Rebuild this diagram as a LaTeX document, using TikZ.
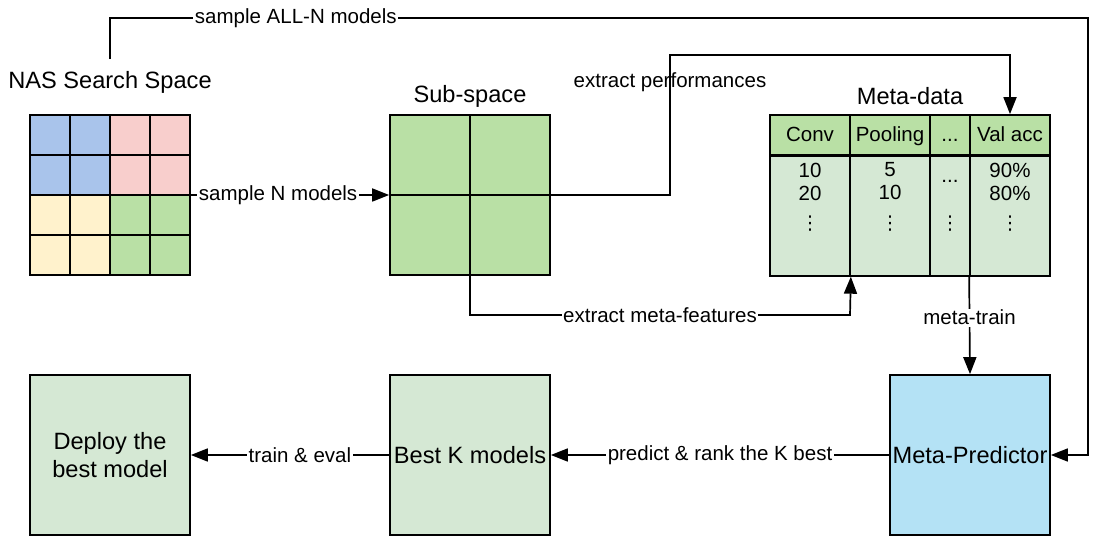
\documentclass[tikz,border=0pt]{standalone}
\usepackage{fontspec}
\setmainfont{Liberation Sans}
\newfontfamily\symfont{DejaVu Sans}
\usetikzlibrary{arrows.meta, positioning}

\definecolor{qblue}{HTML}{A9C4EB}
\definecolor{qpink}{HTML}{F8CECC}
\definecolor{qyellow}{HTML}{FFF2CC}
\definecolor{qgreen}{HTML}{B9E0A5}
\definecolor{lgreen}{HTML}{D5E8D4}
\definecolor{lblue}{HTML}{B4E2F5}

\newcommand{\titlesize}{\fontsize{23.6}{28}\selectfont}
\newcommand{\labelsize}{\fontsize{20.5}{23}\selectfont}

\begin{document}
\begin{tikzpicture}
      [
        x=1pt, y=-1pt,
        line width=1.7pt,
        >={Triangle[length=17pt,width=13pt]},
        box/.style={draw, minimum width=160pt, minimum height=160pt, inner sep=0pt, font=\titlesize, align=center},
        title/.style={inner sep=0pt, font=\titlesize},
        elabel/.style={fill=white, inner sep=1.5pt, font=\labelsize},
        cellbox/.style={draw, inner sep=0pt, minimum width=40pt, minimum height=40pt},
        headcell/.style={draw, fill=qgreen, inner sep=0pt, minimum height=40pt, text height=17pt, text depth=3pt, font=\labelsize},
        bodycell/.style={draw, fill=lgreen, inner sep=0pt, minimum height=120pt, anchor=north},
        celltxt/.style={inner sep=0pt, font=\labelsize, align=center},
        vdot/.style={inner sep=0pt, font=\symfont\fontsize{19}{20}\selectfont}
      ]
      \useasboundingbox (0,0) rectangle (1105,545);
      % NAS search space
      \foreach \qx/\qy/\c in {0/0/qblue,1/0/qpink,0/1/qyellow,1/1/qgreen} {
          \foreach \i in {0,1} {
              \foreach \j in {0,1} {
                  \node [cellbox, fill=\c] at ({50+80*\qx+40*\i},{135+80*\qy+40*\j}) {};
              }
          }
      }
      \node [box] (nas) at (110,195) {};
      \node [title] (naslbl) at (110,82) {NAS Search Space};
      % sub-space
      \node [box, fill=qgreen] (sub) at (470,195) {};
      \draw (sub.north) -- (sub.south);
      \draw (sub.west) -- (sub.east);
      \node [title] (sublbl) at (470,96) {Sub-space};
      % meta-data
      \node [headcell, minimum width=80pt] (hconv) at (810,135) {Conv};
      \node [headcell, minimum width=80pt] (hpool) at (890,135) {Pooling};
      \node [headcell, minimum width=40pt] (hdots) at (950,135) {...};
      \node [headcell, minimum width=80pt] (hacc) at (1010,135) {Val acc};
      \node [bodycell, minimum width=80pt] (bconv) at (810,155) {};
      \node [bodycell, minimum width=80pt] (bpool) at (890,155) {};
      \node [bodycell, minimum width=40pt] (bdots) at (950,155) {};
      \node [bodycell, minimum width=80pt] (bacc) at (1010,155) {};
      \foreach \n/\a/\b in {bconv/10/20, bpool/5/10, bacc/90\%/80\%} {
          \node [celltxt, anchor=north] at ([yshift=-7pt]\n.north) {\a\\\b};
      }
      \foreach \n in {bconv, bpool, bdots, bacc} {
          \node [vdot] at ([yshift=-69pt]\n.north) {⋮};
      }
      \node [celltxt] (etc) at (950,181) {...};
      \node [title] (metalbl) at (910,96) {Meta-data};
      % bottom row
      \node [box, fill=lblue] (mp) at (970,455) {Meta-Predictor};
      \node [box, fill=lgreen] (best) at (470,455) {Best K models};
      \node [box, fill=lgreen] (deploy) at (110,455) {Deploy the\\best model};
      % turning points
      \coordinate (allTurn) at (1088,18);
      \coordinate (perfTurn) at (670,55);
      \coordinate (featLow) at (850,315);
      % edges
      \draw [->] ([yshift=11pt]naslbl.north) |- node [elabel, pos=0.595] {sample ALL-N models} (allTurn) |- (mp.east);
      \draw [->] (nas.east) -- node [elabel, pos=0.44] {sample N models} (sub.west);
      \draw [->] (sub.east) -| node [pos=0.904, inner sep=0pt, font=\labelsize] {extract performances} (perfTurn) -| (hacc.north);
      \draw [->] (sub.south) |- node [elabel, pos=0.75] {extract meta-features} (featLow) -- (bconv.south east);
      \draw [->] (bacc.south west) -- node [elabel, pos=0.42] {meta-train} (mp.north);
      \draw [->] (mp.west) -- node [elabel] {predict \& rank the K best} (best.east);
      \draw [->] (best.west) -- node [elabel, pos=0.45] {train \& eval} (deploy.east);
\end{tikzpicture}
\end{document}
